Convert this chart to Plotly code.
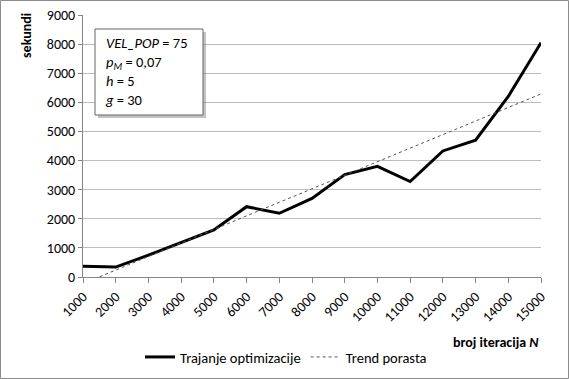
import numpy as np
import plotly.graph_objects as go

iterations = [1000, 2000, 3000, 4000, 5000, 6000, 7000, 8000, 9000, 10000, 11000, 12000, 13000, 14000, 15000]
seconds = [370, 340, 750, 1190, 1615, 2415, 2190, 2700, 3520, 3800, 3280, 4330, 4700, 6200, 8050]
y_ticks = [0, 1000, 2000, 3000, 4000, 5000, 6000, 7000, 8000, 9000]

# linear trendline (as in the spreadsheet)
slope, intercept = np.polyfit(iterations, seconds, 1)
trend_x = [iterations[0], iterations[-1]]
trend_y = [slope * x + intercept for x in trend_x]

W, H = 569, 379
L, R, T, B = 83, 28, 15, 102
PW, PH = W - L - R, H - T - B

def px(x):
    return (x - L) / PW

def py(y):
    return (H - B - y) / PH

FONT = "Carlito, Liberation Sans, Arial"

fig = go.Figure()
fig.add_trace(go.Scatter(x=iterations, y=seconds, mode="lines", name="Trajanje optimizacije",
                         line=dict(color="black", width=3)))
fig.add_trace(go.Scatter(x=trend_x, y=trend_y, mode="lines", name="Trend porasta",
                         line=dict(color="#555555", width=1, dash="dot")))

fig.update_layout(
    width=W, height=H,
    margin=dict(l=L, r=R, t=T, b=B, autoexpand=False),
    paper_bgcolor="white", plot_bgcolor="white",
    font=dict(family=FONT, size=14, color="black"),
    showlegend=True,
    legend=dict(orientation="h", x=px(286), xanchor="center", y=py(357), yanchor="middle",
                font=dict(size=14.5, color="black"), itemwidth=30, tracegroupgap=0),
    xaxis=dict(range=[1000, 15000], tickvals=iterations, ticktext=[str(v) for v in iterations],
               tickangle=-45, showgrid=False, showline=True, linecolor="#868686", linewidth=1,
               ticks="outside", ticklen=5, tickcolor="#868686", zeroline=False, automargin=False,
               tickfont=dict(size=14, color="black")),
    yaxis=dict(range=[0, 9000], tickvals=y_ticks, showgrid=True, gridcolor="#bdbdbd", gridwidth=1,
               showline=True, linecolor="#868686", linewidth=1, ticks="outside", ticklen=4,
               tickcolor="#868686", zeroline=False, automargin=False,
               tickfont=dict(size=14, color="black")),
    shapes=[
        dict(type="rect", xref="paper", yref="paper", x0=px(0.5), x1=px(568.5), y0=py(378.5), y1=py(0.5),
             line=dict(color="#8c8c8c", width=1), fillcolor="rgba(0,0,0,0)", layer="below"),
        dict(type="rect", xref="paper", yref="paper", x0=px(98), x1=px(206), y0=py(118), y1=py(32),
             line=dict(width=0), fillcolor="rgba(120,120,120,0.45)"),
        dict(type="rect", xref="paper", yref="paper", x0=px(95), x1=px(203), y0=py(115), y1=py(29),
             line=dict(color="#666666", width=1), fillcolor="white"),
    ],
    annotations=[
        dict(text="<b>sekundi</b>", xref="paper", yref="paper", x=px(27), y=py(36), textangle=-90,
             showarrow=False, xanchor="center", yanchor="middle", font=dict(size=14, color="black")),
        dict(text="<b>broj iteracija <i>N</i></b>", xref="paper", yref="paper", x=px(541), y=py(343),
             showarrow=False, xanchor="right", yanchor="middle", font=dict(size=14, color="black")),
        dict(text="<i>VEL_POP</i> = 75<br><i>p<sub>M</sub></i> = 0,07<br><i>h</i> = 5<br><i>g</i> = 30",
             xref="paper", yref="paper", x=px(103), y=py(32), xanchor="left", yanchor="top",
             align="left", showarrow=False, font=dict(size=14.5, color="black")),
    ],
)

fig.write_html("out.html", config={"displayModeBar": False},
               post_script="document.body.style.margin='0';")
